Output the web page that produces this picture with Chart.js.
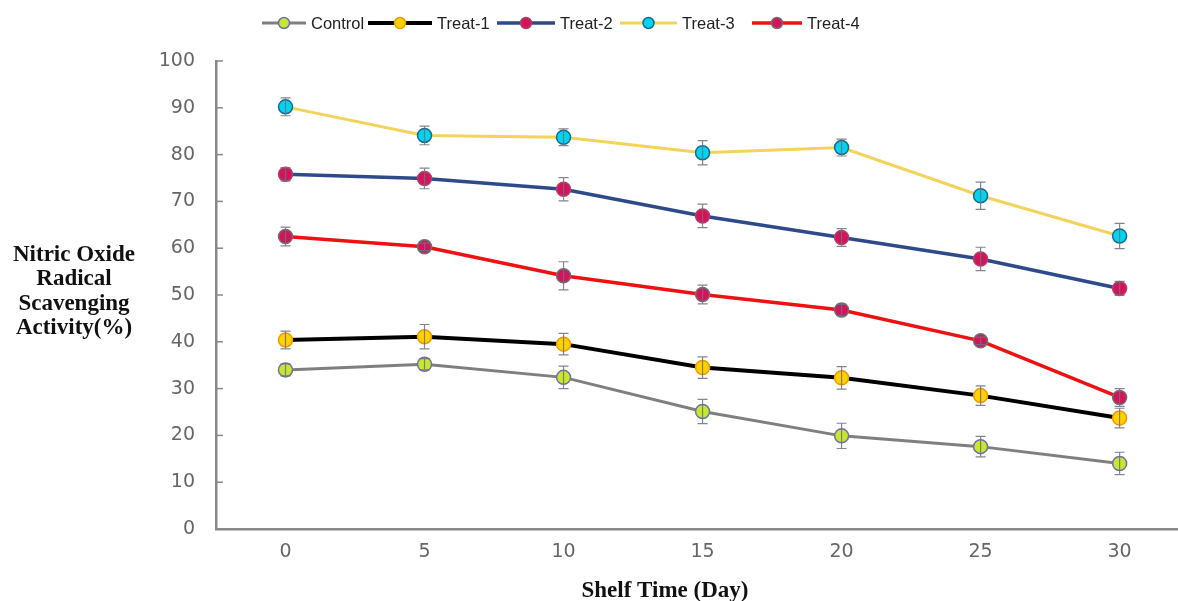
<!DOCTYPE html>
<html>
<head>
<meta charset="utf-8">
<script src="https://cdn.jsdelivr.net/npm/chart.js@4/dist/chart.umd.min.js"></script>
<style>
  html, body { margin:0; padding:0; background:#fff; }
  #wrap { position:relative; width:1178px; height:601px; }
  #legend { position:absolute; left:0; top:0; width:1178px; height:44px; font-family:"Liberation Sans", Arial, sans-serif; font-size:16.5px; color:#222; }
  .li { position:absolute; top:13px; display:flex; align-items:center; height:20px; white-space:nowrap; }
  .li svg { margin-right:5px; }
</style>
</head>
<body>
<div id="wrap">
  <canvas id="c" width="1178" height="601"></canvas>
  <div id="legend"></div>
</div>
<script>
const days = [0, 5, 10, 15, 20, 25, 30];
const xTicks = [0, 5, 10, 15, 20, 25, 30];
const yTicks = [0, 10, 20, 30, 40, 50, 60, 70, 80, 90, 100];
const seriesNames = ["Control", "Treat-1", "Treat-2", "Treat-3", "Treat-4"];

const control    = [34.0, 35.2, 32.4, 25.1, 19.9, 17.6, 14.0];
const controlErr = [1.3, 1.2, 2.4, 2.6, 2.7, 2.2, 2.4];
const treat1     = [40.4, 41.1, 39.5, 34.5, 32.3, 28.5, 23.7];
const treat1Err  = [1.9, 2.6, 2.3, 2.3, 2.4, 2.1, 2.1];
const treat2     = [75.8, 74.9, 72.6, 66.9, 62.3, 57.7, 51.4];
const treat2Err  = [1.4, 2.2, 2.5, 2.5, 1.9, 2.5, 1.5];
const treat3     = [90.2, 84.1, 83.7, 80.4, 81.5, 71.2, 62.6];
const treat3Err  = [1.9, 2.0, 1.8, 2.6, 1.8, 2.9, 2.7];
const treat4     = [62.5, 60.3, 54.1, 50.1, 46.8, 40.2, 28.1];
const treat4Err  = [2.0, 0.8, 3.0, 2.0, 1.2, 0.8, 1.9];

const yTitleLines = ["Nitric Oxide", "Radical", "Scavenging", "Activity(%)"];
const xTitle = "Shelf Time (Day)";

const styles = [
  { line:'#7f7f7f', lw:3,   bg:'#c8e62c', bd:'#6a72b0' },
  { line:'#000000', lw:4,   bg:'#ffd200', bd:'#f09a00' },
  { line:'#2e4a8a', lw:3.5, bg:'#d4145a', bd:'#b0406a' },
  { line:'#f4d35a', lw:3,   bg:'#00d4f0', bd:'#1a6a8a' },
  { line:'#ee1111', lw:3.5, bg:'#d4145a', bd:'#707070' }
];
const values = [control, treat1, treat2, treat3, treat4];
const errors = [controlErr, treat1Err, treat2Err, treat3Err, treat4Err];

const datasets = values.map((vals, i) => ({
  label: seriesNames[i],
  data: days.map((d, j) => ({ x: d, y: vals[j] })),
  errs: errors[i],
  borderColor: styles[i].line,
  borderWidth: styles[i].lw,
  pointBackgroundColor: styles[i].bg,
  pointBorderColor: styles[i].bd,
  pointBorderWidth: 1.5,
  pointRadius: 7,
  tension: 0,
  fill: false
}));

const errorBars = {
  id: 'errorBars',
  afterDatasetsDraw(chart) {
    const ctx = chart.ctx;
    const xs = chart.scales.x, ys = chart.scales.y;
    ctx.save();
    ctx.strokeStyle = 'rgba(110,110,130,0.85)';
    ctx.lineWidth = 1.2;
    chart.data.datasets.forEach(ds => {
      ds.data.forEach((p, j) => {
        const e = ds.errs[j];
        const x = xs.getPixelForValue(p.x);
        const y1 = ys.getPixelForValue(p.y + e);
        const y2 = ys.getPixelForValue(p.y - e);
        ctx.beginPath();
        ctx.moveTo(x, y1); ctx.lineTo(x, y2);
        ctx.moveTo(x - 5, y1); ctx.lineTo(x + 5, y1);
        ctx.moveTo(x - 5, y2); ctx.lineTo(x + 5, y2);
        ctx.stroke();
      });
    });
    ctx.restore();
  }
};

const decorations = {
  id: 'decorations',
  afterDraw(chart) {
    const ctx = chart.ctx;
    const ys = chart.scales.y;
    const area = chart.chartArea;
    ctx.save();
    ctx.strokeStyle = '#888';
    ctx.lineWidth = 1.5;
    yTicks.forEach(v => {
      const y = ys.getPixelForValue(v);
      ctx.beginPath(); ctx.moveTo(area.left, y); ctx.lineTo(area.left + 7, y); ctx.stroke();
    });
    ctx.fillStyle = '#111';
    ctx.font = 'bold 23px "Liberation Serif", "Times New Roman", serif';
    ctx.textAlign = 'center';
    ctx.textBaseline = 'alphabetic';
    yTitleLines.forEach((t, i) => ctx.fillText(t, 74, 261 + i * 24.3));
    ctx.fillText(xTitle, 665, 597);
    ctx.restore();
  }
};

new Chart(document.getElementById('c'), {
  type: 'line',
  data: { datasets },
  options: {
    responsive: false,
    animation: false,
    layout: { autoPadding: false, padding: { top: 61, left: 0, right: 0, bottom: 0 } },
    plugins: { legend: { display: false }, tooltip: { enabled: false } },
    scales: {
      x: {
        type: 'linear', min: -2.5, max: 32.1,
        afterBuildTicks: s => { s.ticks = xTicks.map(v => ({ value: v })); },
        afterFit: s => { s.height = 72; },
        grid: { display: false, drawTicks: false },
        border: { display: true, color: '#888', width: 2.5 },
        ticks: { padding: 12, color: '#666', font: { family: 'DejaVu Sans', size: 19 }, maxRotation: 0 }
      },
      y: {
        min: 0, max: 100,
        afterBuildTicks: s => { s.ticks = yTicks.map(v => ({ value: v })); },
        afterFit: s => { s.width = 216; },
        grid: { display: false, drawTicks: false },
        border: { display: true, color: '#888', width: 2.5 },
        ticks: { padding: 21, color: '#666', font: { family: 'DejaVu Sans', size: 19 } }
      }
    }
  },
  plugins: [errorBars, decorations]
});

const legendX = [262, 368, 497, 620, 752];
const legendIconW = [44, 64, 58, 57, 50];
const legend = document.getElementById('legend');
seriesNames.forEach((name, i) => {
  const s = styles[i];
  const w = legendIconW[i];
  const div = document.createElement('div');
  div.className = 'li';
  div.style.left = legendX[i] + 'px';
  div.innerHTML = `<svg width="${w}" height="20"><line x1="0" y1="10" x2="${w}" y2="10" stroke="${s.line}" stroke-width="${s.lw}"/><circle cx="${w/2}" cy="10" r="5.5" fill="${s.bg}" stroke="${s.bd}" stroke-width="1.5"/></svg><span>${name}</span>`;
  legend.appendChild(div);
});
</script>
</body>
</html>
